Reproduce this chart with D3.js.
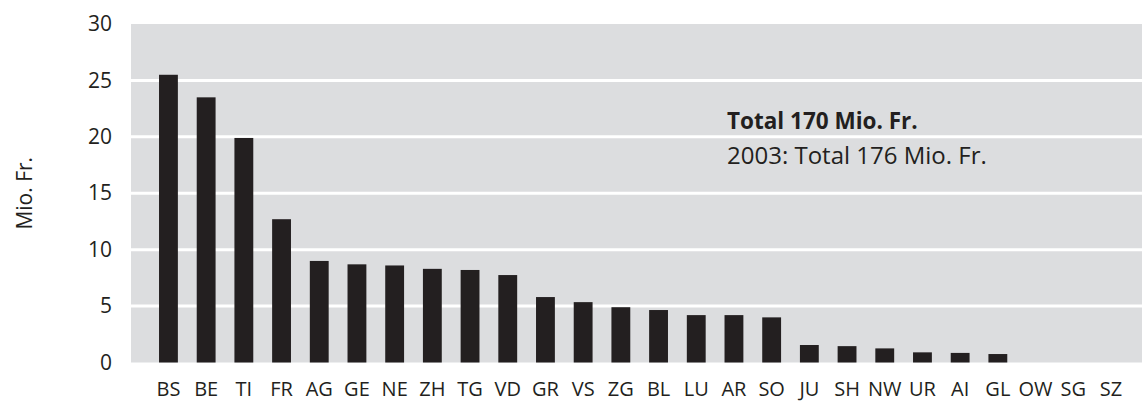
<!DOCTYPE html>
<html>
<head>
<meta charset="utf-8">
<script src="https://cdn.jsdelivr.net/npm/d3@7"></script>
<style>
  body { margin: 0; background: #fff; }
  text { font-family: "Open Sans", sans-serif; fill: #231f20; }
</style>
</head>
<body>
<div id="chart"></div>
<script>
var cantons = ["BS", "BE", "TI", "FR", "AG", "GE", "NE", "ZH", "TG", "VD", "GR", "VS", "ZG",
               "BL", "LU", "AR", "SO", "JU", "SH", "NW", "UR", "AI", "GL", "OW", "SG", "SZ"];
var values = [25.5, 23.5, 19.9, 12.7, 9.0, 8.7, 8.6, 8.3, 8.2, 7.75, 5.8, 5.35, 4.9,
              4.65, 4.2, 4.2, 4.0, 1.55, 1.45, 1.25, 0.9, 0.85, 0.75, 0, 0, 0];
var yTicks = [0, 5, 10, 15, 20, 25, 30];
var noteBold = "Total 170 Mio. Fr.";
var noteText = "2003: Total 176 Mio. Fr.";

function init() {
    var w = 1142, h = 403;
    var left = 131, right = 1142, top = 24, bottom = 362.5;

    var svg = d3.select("#chart").append("svg")
        .attr("width", w)
        .attr("height", h);

    var xScale = d3.scaleBand()
        .domain(cantons)
        .range([149.6, 1129.8])
        .paddingInner(0.5)
        .paddingOuter(0.25);

    var yScale = d3.scaleLinear()
        .domain([0, 30])
        .range([bottom, top]);

    // grey plot background
    svg.append("rect")
        .attr("x", left)
        .attr("y", top)
        .attr("width", right - left)
        .attr("height", bottom - top)
        .attr("fill", "#dcdddf");

    // white gridlines
    svg.selectAll("line.grid")
        .data(yTicks.filter(function(d) { return d > 0 && d < 30; }))
        .enter()
        .append("line")
        .attr("class", "grid")
        .attr("x1", left)
        .attr("x2", right)
        .attr("y1", function(d) { return yScale(d); })
        .attr("y2", function(d) { return yScale(d); })
        .attr("stroke", "#fff")
        .attr("stroke-width", 3);

    // bars
    svg.selectAll("rect.bar")
        .data(values)
        .enter()
        .append("rect")
        .attr("class", "bar")
        .attr("x", function(d, i) { return xScale(cantons[i]); })
        .attr("y", function(d) { return yScale(d); })
        .attr("width", xScale.bandwidth())
        .attr("height", function(d) { return bottom - yScale(d); })
        .attr("fill", "#231f20");

    // y axis
    var yAxis = d3.axisLeft(yScale)
        .tickValues(yTicks)
        .tickSize(0)
        .tickPadding(0);
    var gy = svg.append("g")
        .attr("transform", "translate(112,0)")
        .call(yAxis);
    gy.select(".domain").remove();
    gy.selectAll("text")
        .attr("font-size", "21px")
        .attr("font-family", null)
        .attr("fill", "#231f20");

    // x axis
    var xAxis = d3.axisBottom(xScale)
        .tickSize(0)
        .tickPadding(0);
    var gx = svg.append("g")
        .attr("transform", "translate(0,382)")
        .call(xAxis);
    gx.select(".domain").remove();
    gx.selectAll("text")
        .attr("font-size", "20px")
        .attr("font-family", null)
        .attr("fill", "#231f20");

    // y title
    svg.append("text")
        .attr("transform", "translate(32," + (top + bottom) / 2 + ") rotate(-90)")
        .attr("text-anchor", "middle")
        .attr("font-size", "21px")
        .text("Mio. Fr.");

    // note
    svg.append("text")
        .attr("x", 727)
        .attr("y", 129)
        .attr("font-size", "22.5px")
        .attr("font-weight", "bold")
        .text(noteBold);
    svg.append("text")
        .attr("x", 727)
        .attr("y", 164)
        .attr("font-size", "24px")
        .text(noteText);
}
window.onload = init;
</script>
</body>
</html>
